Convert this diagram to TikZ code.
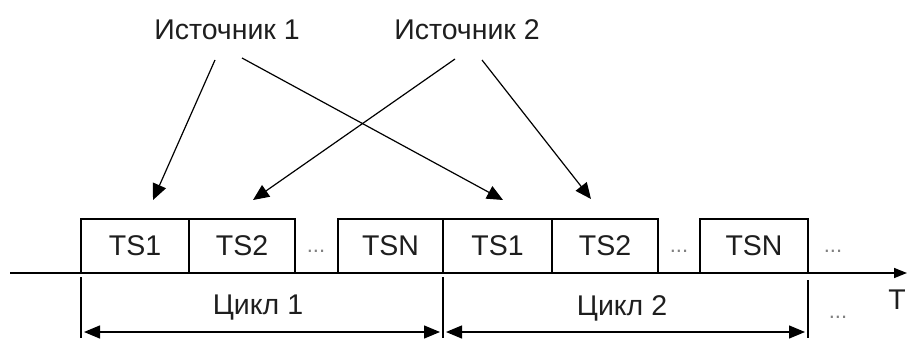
\documentclass[tikz,border=0pt]{standalone}
\usepackage{fontspec}
\setmainfont{Liberation Sans}
\usetikzlibrary{arrows.meta}
\definecolor{txt}{HTML}{1E1E1E}
\begin{document}
\begin{tikzpicture}[x=1pt,y=-1pt,
  lbl/.style={font=\fontsize{28.5}{32}\selectfont, text=txt, inner sep=0pt},
  dots/.style={font=\fontsize{22}{26}\selectfont, text=gray, inner sep=0pt, anchor=base},
  slot/.style={draw, line width=1.3pt, minimum height=54pt, inner sep=0pt, outer sep=0pt, anchor=south west, font=\fontsize{28.5}{32}\selectfont, text=txt},
  ln/.style={line width=1.3pt},
  tip/.style={line width=1.2pt, -{Triangle[length=16pt,width=14pt]}},
  dbl/.style={line width=1.3pt, {Triangle[length=16pt,width=13pt]}-{Triangle[length=16pt,width=13pt]}}]
\useasboundingbox (0,0) rectangle (907,340);
% sources
\node[lbl] (src1) at (227,30) {Источник 1};
\node[lbl] (src2) at (467,30) {Источник 2};
% slots
\node[slot, minimum width=108pt] (a1) at (81,273) {TS1};
\node[slot, minimum width=106pt] (a2) at (189,273) {TS2};
\node[slot, minimum width=105pt] (an) at (338,273) {TSN};
\node[slot, minimum width=109pt] (b1) at (443,273) {TS1};
\node[slot, minimum width=106pt] (b2) at (552,273) {TS2};
\node[slot, minimum width=108pt] (bn) at (700,273) {TSN};
\node[dots] (d1) at (316,252) {...};
\node[dots] (d2) at (679,252) {...};
\node[dots] (d3) at (833,252) {...};
\node[dots] (d4) at (838,318) {...};
% axis
\coordinate (ax0) at (10,273);
\coordinate (ax1) at (907,273);
\draw[line width=1.5pt, -{Triangle[length=13pt,width=10pt]}] (ax0) -- (ax1);
\node[lbl] (tlab) at (897,300) {T};
% arrows from sources
\coordinate (s1a) at (215,60);
\coordinate (s1b) at (242,58);
\coordinate (s2a) at (455,59);
\coordinate (s2b) at (482,60);
\coordinate (e1) at (153,200);
\coordinate (e2) at (503,200);
\coordinate (e3) at (253,200);
\coordinate (e4) at (591,199);
\draw[tip] (s1a) -- (e1);
\draw[tip] (s1b) -- (e2);
\draw[tip] (s2a) -- (e3);
\draw[tip] (s2b) -- (e4);
% cycle ticks
\coordinate (t1a) at (81,277);  \coordinate (t1b) at (81,338);
\coordinate (t2a) at (443,277); \coordinate (t2b) at (443,338);
\coordinate (t3a) at (808,280); \coordinate (t3b) at (808,338);
\draw[ln] (t1a) -- (t1b);
\draw[ln] (t2a) -- (t2b);
\draw[ln] (t3a) -- (t3b);
% cycle arrows
\coordinate (c1l) at (84,332);  \coordinate (c1r) at (440,332);
\coordinate (c2l) at (446,332); \coordinate (c2r) at (805,332);
\draw[dbl] (c1l) -- (c1r);
\draw[dbl] (c2l) -- (c2r);
\node[lbl] (cy1) at (258,308) {Цикл 1};
\node[lbl] (cy2) at (622,308) {Цикл 2};
\end{tikzpicture}
\end{document}
